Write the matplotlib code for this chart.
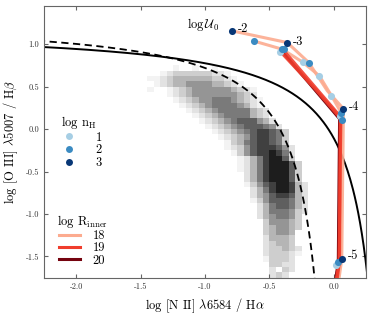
import numpy as np
import matplotlib
matplotlib.use('Agg')
import matplotlib.pyplot as plt
from matplotlib.lines import Line2D

plt.rcParams['font.family'] = 'cmr10'
plt.rcParams['mathtext.fontset'] = 'cm'
plt.rcParams['axes.unicode_minus'] = False

# galaxy density, one char per cell (. = empty, 1-9 darker)
# rows go from y=0.75 (top) down to y=-1.75, columns from x=-1.45 to the right
hist_x0, hist_dx = -1.45, 0.05
hist_y0, hist_dy = 0.75, 0.0625
hist_rows = [
    "....1..1..1..............",
    "..12333333221............",
    "11234444443321...........",
    ".12344555544321..........",
    "1..12345555554321........",
    "...12345555555432........",
    "....12345566654321.......",
    ".....1234566665421.......",
    "......1234566666432......",
    ".......123456666432......",
    "........123456777542.....",
    ".........123456777652....",
    "..........123456788763...",
    "...........12345788763...",
    "............1346788763...",
    "............12357888752..",
    ".............1357889862..",
    "..............124689973..",
    "..............1246899973.",
    "..............1246899973.",
    "...............246899973.",
    "...............246899973.",
    "...............1357899842",
    "................246899842",
    "................245788742",
    "................135777642",
    ".................24677642",
    ".................24666532",
    ".................2456653.",
    "..................355543.",
    "..................345543.",
    "..................34554..",
    "..................24443..",
    "..................23443..",
    "..................233432.",
    "..................233321.",
    "..................13332..",
    "...................3322..",
    "...................2.32..",
    "...................232...",
]

# demarcation lines (Kauffmann 2003 dashed, Kewley 2001 solid)
kauff_a, kauff_b, kauff_c = 0.61, 0.05, 1.30
kewley_a, kewley_b, kewley_c = 0.61, 0.47, 1.19

# model tracks, log R_inner = 18, 19, 20
track_r18 = [
    ([-0.789, -0.362, -0.195, -0.050, 0.075, 0.062, 0.000],
     [1.156, 1.019, 0.784, 0.450, 0.239, -1.530, -2.200]),
    ([-0.617, -0.400, -0.242, -0.112, -0.019, 0.057, 0.036, -0.020],
     [1.035, 0.940, 0.788, 0.627, 0.395, 0.195, -1.570, -2.200]),
]
track_r19 = [
    ([-0.400, 0.050, 0.045, -0.010], [0.945, 0.150, -1.550, -2.200]),
    ([-0.420, -0.150, 0.055, 0.040, -0.030], [0.920, 0.480, 0.120, -1.580, -2.200]),
]
track_r20 = [
    ([-0.410, 0.045, 0.035, -0.030], [0.930, 0.120, -1.570, -2.200]),
]

# model points by log n_H
nh1_x = [-0.420, -0.242, -0.112, -0.019, 0.050, 0.015]
nh1_y = [0.913, 0.788, 0.627, 0.395, 0.156, -1.600]
nh2_x = [-0.617, -0.400, -0.385, -0.195, 0.057, 0.062, 0.036]
nh2_y = [1.035, 0.945, 0.940, 0.784, 0.195, 0.109, -1.570]
nh3_x = [-0.789, -0.362, 0.075, 0.062]
nh3_y = [1.156, 1.019, 0.239, -1.530]

u_labels = ['-2', '-3', '-4', '-5']
u_lab_x = [-0.745, -0.315, 0.115, 0.110]
u_lab_y = [1.175, 1.030, 0.255, -1.490]

c_nh = [plt.cm.Blues(0.35), plt.cm.Blues(0.65), plt.cm.Blues(0.97)]
c_r = [plt.cm.Reds(0.3), plt.cm.Reds(0.62), plt.cm.Reds(0.97)]

fig = plt.figure(figsize=(3.74, 3.16), dpi=100)
ax = fig.add_axes([0.1185, 0.1212, 0.860, 0.860])

# histogram
grid = np.array([[0 if ch == '.' else int(ch) for ch in row] for row in hist_rows], float)
grid = np.ma.masked_equal(grid, 0)
xe = hist_x0 + hist_dx * np.arange(grid.shape[1] + 1)
ye = hist_y0 - hist_dy * np.arange(grid.shape[0] + 1)
ax.pcolormesh(xe, ye, grid / 10., cmap='Greys', vmin=0, vmax=1, zorder=1)

xk = np.linspace(-2.3, kauff_b - 0.01, 400)
ax.plot(xk, kauff_a / (xk - kauff_b) + kauff_c, 'k--', lw=1.3, dashes=(4, 2.5), zorder=2)
xw = np.linspace(-2.3, kewley_b - 0.01, 400)
ax.plot(xw, kewley_a / (xw - kewley_b) + kewley_c, 'k-', lw=1.4, zorder=2)

for tx, ty in track_r18:
    ax.plot(tx, ty, color=c_r[0], lw=2.2, alpha=0.9, zorder=3, solid_capstyle='round')
for tx, ty in track_r20:
    ax.plot(tx, ty, color=c_r[2], lw=2.2, zorder=3.1, solid_capstyle='round')
for tx, ty in track_r19:
    ax.plot(tx, ty, color=c_r[1], lw=2.2, alpha=0.9, zorder=3.2, solid_capstyle='round')

ax.scatter(nh1_x, nh1_y, s=26, color=c_nh[0], zorder=4, lw=0)
ax.scatter(nh2_x, nh2_y, s=26, color=c_nh[1], zorder=5, lw=0)
ax.scatter(nh3_x, nh3_y, s=26, color=c_nh[2], zorder=6, lw=0)

for lab, x, y in zip(u_labels, u_lab_x, u_lab_y):
    ax.text(x, y, lab, fontsize=9, ha='left', va='center', zorder=7)
ax.text(-1.14, 1.23, r'$\log\mathcal{U}_0$', fontsize=9, ha='left', va='center')

ax.set_xlim(-2.25, 0.25)
ax.set_ylim(-1.75, 1.45)
ax.set_xticks([-2.0, -1.5, -1.0, -0.5, 0.0])
ax.set_yticks([-1.5, -1.0, -0.5, 0.0, 0.5, 1.0])
ax.tick_params(direction='in', top=True, right=True, labelsize=6, length=3,
               color='0.4', labelcolor='0.2')
for sp in ax.spines.values():
    sp.set_color('0.4')
ax.set_xlabel(r'log [N II] $\lambda$6584 / H$\alpha$', fontsize=9)
ax.set_ylabel(r'log [O III] $\lambda$5007 / H$\beta$', fontsize=9)

h1 = [Line2D([], [], ls='', marker='o', ms=5, mew=0, color=c) for c in c_nh]
leg1 = ax.legend(h1, ['1', '2', '3'], title=r'log n$_\mathrm{H}$', loc='upper left',
                 bbox_to_anchor=(0.015, 0.63), frameon=False, fontsize=9,
                 title_fontsize=9, handletextpad=1.1, labelspacing=0.05,
                 borderaxespad=0.2)
ax.add_artist(leg1)
h2 = [Line2D([], [], color=c, lw=2.2) for c in c_r]
ax.legend(h2, ['18', '19', '20'], title=r'log R$_\mathrm{inner}$', loc='upper left',
          bbox_to_anchor=(0.015, 0.265), frameon=False, fontsize=9, title_fontsize=9,
          handlelength=1.7, handletextpad=1.0, labelspacing=0.0, borderaxespad=0.2)

fig.savefig('out.png', dpi=100)
